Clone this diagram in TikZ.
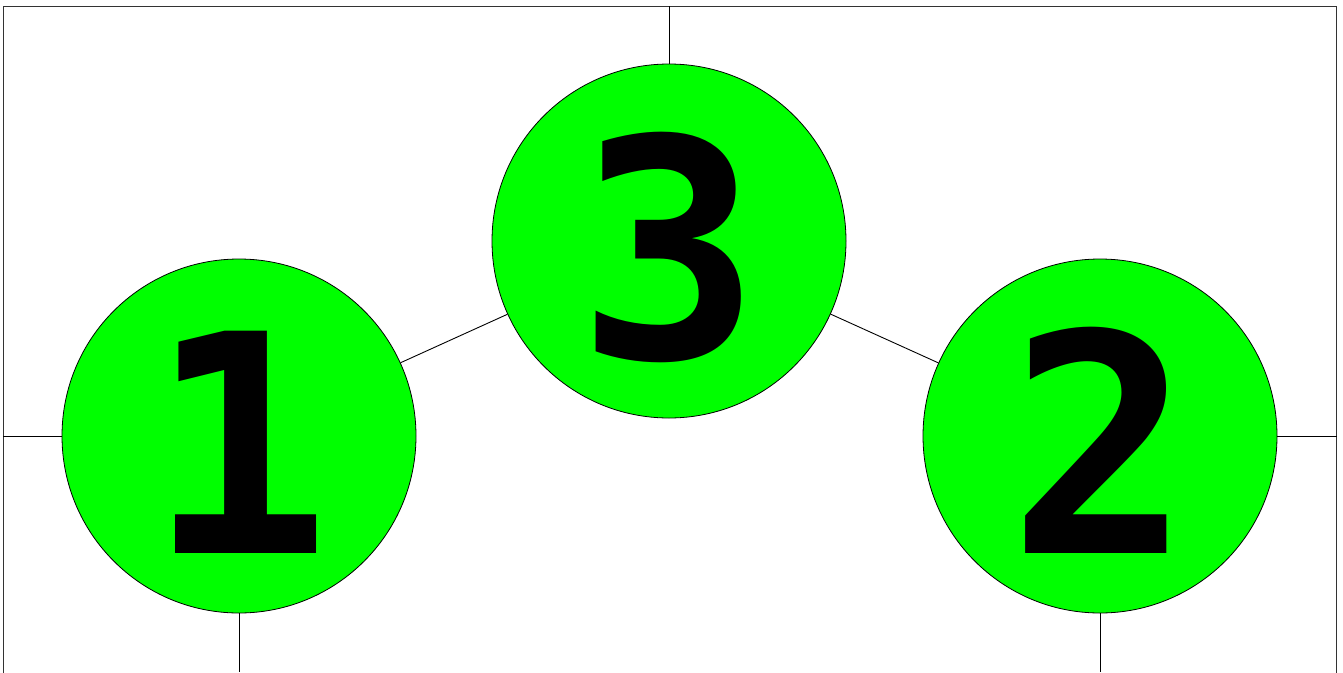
\documentclass[tikz,border=0pt]{standalone}
\usepackage{fontspec}
\newfontfamily\digitfont{DejaVu Sans Mono}
\definecolor{nodegreen}{RGB}{0,255,0}
\begin{document}
\begin{tikzpicture}[x=1pt,y=-1pt,
  numnode/.style={circle,draw=black,line width=0.8pt,fill=nodegreen,minimum size=354pt,inner sep=0pt,
    font=\digitfont\bfseries\fontsize{305}{305}\selectfont,text height=234pt,text depth=0pt},
  link/.style={draw=black,line width=0.9pt}]
\useasboundingbox (0,0) rectangle (1343,672);
\begin{scope}
\clip (0,0) rectangle (1343,672);
\draw[line width=1pt,black!80] (3,680) -- (3,6) -- (1336.5,6) -- (1336.5,680);
\end{scope}
\coordinate (top) at (669,6);
\coordinate (left) at (3,436);
\coordinate (right) at (1336.5,436);
\coordinate (bot1) at (239,672);
\coordinate (bot2) at (1100,672);
\node[numnode] (n3) at (669,241) {3};
\node[numnode] (n1) at (239,436) {1};
\node[numnode] (n2) at (1100,436) {2};
\draw[link] (n3) -- (top);
\draw[link] (n1) -- (n3);
\draw[link] (n3) -- (n2);
\draw[link] (left) -- (n1);
\draw[link] (n2) -- (right);
\draw[link] (n1) -- (bot1);
\draw[link] (n2) -- (bot2);
\end{tikzpicture}
\end{document}
